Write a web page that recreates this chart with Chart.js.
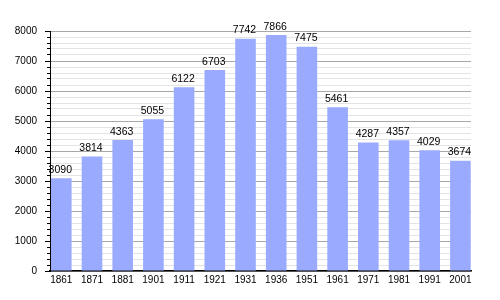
<!DOCTYPE html>
<html>
<head>
<meta charset="utf-8">
<script src="https://cdn.jsdelivr.net/npm/chart.js@4/dist/chart.umd.min.js"></script>
<style>
html,body{margin:0;padding:0;background:#fff;}
#wrap{width:500px;height:300px;position:relative;}
</style>
</head>
<body>
<div id="wrap"><canvas id="c" width="500" height="300"></canvas></div>
<script>
const categories = ['1861','1871','1881','1901','1911','1921','1931','1936','1951','1961','1971','1981','1991','2001'];
const population = [3090,3814,4363,5055,6122,6703,7742,7866,7475,5461,4287,4357,4029,3674];
const yTickLabels = [0,1000,2000,3000,4000,5000,6000,7000,8000];

const points = population.map((v, i) => ({x: i, y: v}));

const valueLabels = {
  id: 'valueLabels',
  afterDatasetsDraw(chart) {
    const ctx = chart.ctx;
    const meta = chart.getDatasetMeta(0);
    ctx.save();
    ctx.font = '10.5px "Liberation Sans", Arial, sans-serif';
    ctx.fillStyle = '#000';
    ctx.textAlign = 'center';
    ctx.textBaseline = 'bottom';
    meta.data.forEach((bar, i) => {
      ctx.fillText(String(population[i]), bar.x - 1, bar.y - 3);
    });
    ctx.restore();
  }
};

new Chart(document.getElementById('c'), {
  type: 'bar',
  data: {
    datasets: [{
      data: points,
      backgroundColor: '#99aaff',
      borderWidth: 0,
      categoryPercentage: 1,
      barPercentage: 0.671
    }]
  },
  options: {
    responsive: false,
    animation: false,
    events: [],
    layout: { padding: { top: 31, right: 29, left: 0, bottom: 0 } },
    plugins: { legend: { display: false }, tooltip: { enabled: false } },
    scales: {
      x: {
        type: 'linear',
        offset: false,
        min: -0.368,
        max: 13.345,
        afterBuildTicks(axis) {
          axis.ticks = categories.map((c, i) => ({ value: i }));
        },
        afterFit(axis) { axis.height = 29; },
        ticks: {
          autoSkip: false,
          maxRotation: 0,
          padding: 3,
          color: '#000',
          font: { family: '"Liberation Sans", Arial, sans-serif', size: 10 },
          callback: (v) => categories[v] !== undefined ? categories[v] : ''
        },
        grid: { display: false, drawTicks: false, offset: false },
        border: { display: true, color: '#000', width: 1.5 }
      },
      y: {
        min: 0,
        max: 8000,
        afterBuildTicks(axis) {
          const t = [];
          for (let v = 0; v <= 8000; v += 200) t.push({ value: v });
          axis.ticks = t;
        },
        afterFit(axis) { axis.width = 50; },
        ticks: {
          autoSkip: false,
          padding: 8,
          color: '#000',
          font: { family: '"Liberation Sans", Arial, sans-serif', size: 10 },
          callback: (v) => yTickLabels.includes(v) ? String(v) : ''
        },
        grid: {
          color: (ctx) => (ctx.tick && yTickLabels.includes(ctx.tick.value)) ? '#a8a8a8' : '#e4e4e4',
          tickColor: '#000',
          tickLength: 5,
          tickBorderDash: (ctx) => (ctx.tick && yTickLabels.includes(ctx.tick.value)) ? [] : [0, 2, 10]
        },
        border: { display: true, color: '#000', width: 1 }
      }
    }
  },
  plugins: [valueLabels]
});
</script>
</body>
</html>
